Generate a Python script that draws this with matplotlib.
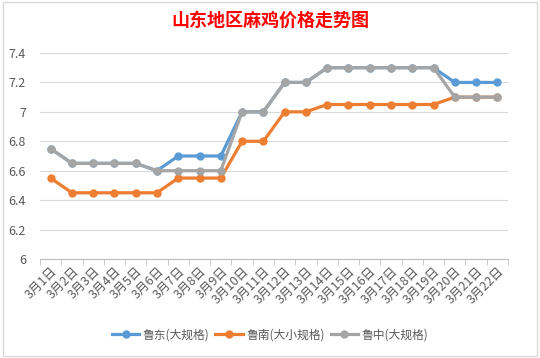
import matplotlib.pyplot as plt
from matplotlib.ticker import FuncFormatter, FixedLocator
from matplotlib.patches import Rectangle

plt.rcParams['font.family'] = ['Noto Sans CJK SC', 'DejaVu Sans']

# 日期
dates = [f"3月{d}日" for d in range(1, 23)]

# 三个地区的价格
ludong = [6.75, 6.65, 6.65, 6.65, 6.65, 6.6, 6.7, 6.7, 6.7, 7.0, 7.0,
          7.2, 7.2, 7.3, 7.3, 7.3, 7.3, 7.3, 7.3, 7.2, 7.2, 7.2]
lunan = [6.55, 6.45, 6.45, 6.45, 6.45, 6.45, 6.55, 6.55, 6.55, 6.8, 6.8,
         7.0, 7.0, 7.05, 7.05, 7.05, 7.05, 7.05, 7.05, 7.1, 7.1, 7.1]
luzhong = [6.75, 6.65, 6.65, 6.65, 6.65, 6.6, 6.6, 6.6, 6.6, 7.0, 7.0,
           7.2, 7.2, 7.3, 7.3, 7.3, 7.3, 7.3, 7.3, 7.1, 7.1, 7.1]

series_names = ['鲁东(大规格)', '鲁南(大小规格)', '鲁中(大规格)']
colors = ['#5B9BD5', '#ED7D31', '#A5A5A5']

fig = plt.figure(figsize=(5.4, 3.58), dpi=100)
ax = fig.add_axes([40/540, 1-259/358, 468/540, 206/358])

x = list(range(len(dates)))
for vals, name, c in zip([ludong, lunan, luzhong], series_names, colors):
    ax.plot(x, vals, color=c, lw=2.3, marker='o', ms=5, label=name)

ax.set_xlim(-0.5, len(dates) - 0.5)
ax.set_ylim(6, 7.4)
ax.set_yticks([6, 6.2, 6.4, 6.6, 6.8, 7, 7.2, 7.4])
ax.yaxis.set_major_formatter(FuncFormatter(lambda v, p: f"{v:g}"))
ax.grid(axis='y', color='#D9D9D9', lw=0.8)
ax.set_axisbelow(True)

ax.set_xticks(x)
ax.set_xticklabels(dates, rotation=45, ha='right', rotation_mode='anchor')
ax.xaxis.set_minor_locator(FixedLocator([i - 0.5 for i in range(len(dates) + 1)]))
ax.tick_params(axis='x', which='major', length=0, pad=4, labelsize=9, labelcolor='#595959')
ax.tick_params(axis='x', which='minor', length=4, color='#BFBFBF')
ax.tick_params(axis='y', length=0, labelsize=9, labelcolor='#595959', pad=10)

for s in ['top', 'right', 'left']:
    ax.spines[s].set_visible(False)
ax.spines['bottom'].set_color('#BFBFBF')

fig.text(0.5, 1-20/358, '山东地区麻鸡价格走势图', color='#FF0000', fontsize=13,
         fontweight='bold', ha='center', va='center')

fig.legend(loc='center', bbox_to_anchor=(0.5, 1-335/358), ncol=3, frameon=False,
           fontsize=8.5, handlelength=2.3, columnspacing=0.5, handletextpad=0.3,
           labelcolor='#595959')

fig.patches.append(Rectangle((0.005, 0.005), 0.99, 0.99, transform=fig.transFigure,
                             fill=False, edgecolor='#D9D9D9', lw=1))

fig.savefig('out.png', dpi=100)
